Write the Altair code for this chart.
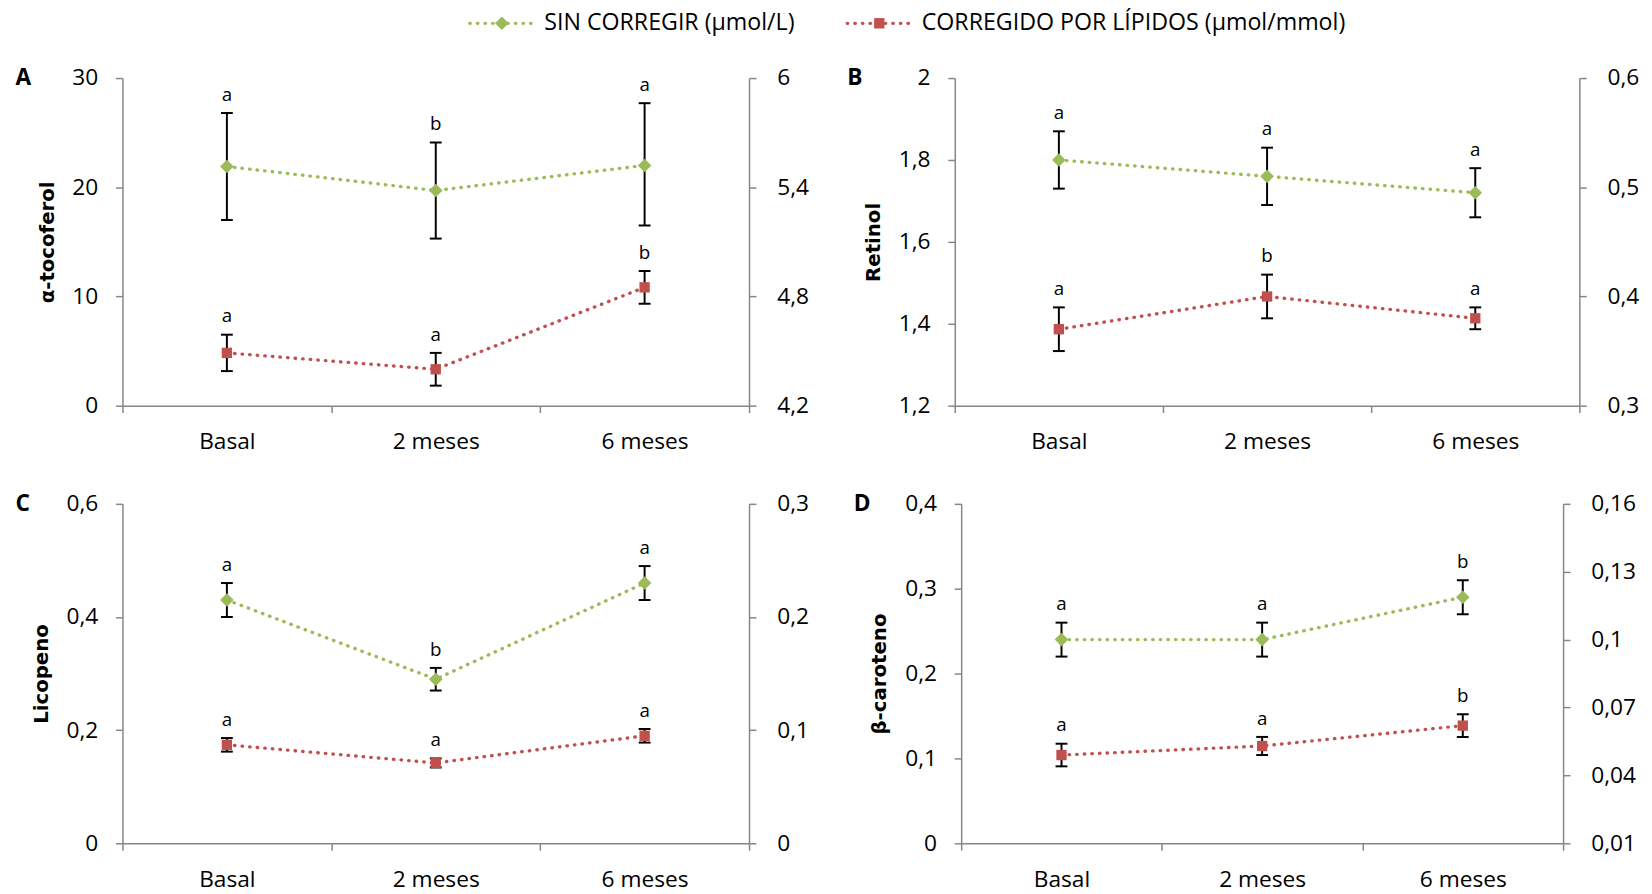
import altair as alt
import pandas as pd

GREEN = "#9BBB59"
RED = "#C0504D"
AXIS_GREY = "#868686"

categories = ["Basal", "2 meses", "6 meses"]
series_names = ["SIN CORREGIR (μmol/L)", "CORREGIDO POR LÍPIDOS (μmol/mmol)"]

# ---- Panel A: alpha-tocoferol ----
a_sin = [21.9, 19.7, 22.0]
a_sin_lo = [17.0, 15.3, 16.5]
a_sin_hi = [26.8, 24.1, 27.7]
a_sin_sig = ["a", "b", "a"]
a_cor = [4.49, 4.40, 4.85]
a_cor_lo = [4.39, 4.31, 4.76]
a_cor_hi = [4.59, 4.49, 4.94]
a_cor_sig = ["a", "a", "b"]

# ---- Panel B: retinol ----
b_sin = [1.80, 1.76, 1.72]
b_sin_lo = [1.73, 1.69, 1.66]
b_sin_hi = [1.87, 1.83, 1.78]
b_sin_sig = ["a", "a", "a"]
b_cor = [0.37, 0.40, 0.38]
b_cor_lo = [0.35, 0.38, 0.37]
b_cor_hi = [0.39, 0.42, 0.39]
b_cor_sig = ["a", "b", "a"]

# ---- Panel C: licopeno ----
c_sin = [0.43, 0.29, 0.46]
c_sin_lo = [0.40, 0.27, 0.43]
c_sin_hi = [0.46, 0.31, 0.49]
c_sin_sig = ["a", "b", "a"]
c_cor = [0.087, 0.071, 0.095]
c_cor_lo = [0.081, 0.067, 0.089]
c_cor_hi = [0.093, 0.075, 0.101]
c_cor_sig = ["a", "a", "a"]

# ---- Panel D: beta-caroteno ----
d_sin = [0.24, 0.24, 0.29]
d_sin_lo = [0.22, 0.22, 0.27]
d_sin_hi = [0.26, 0.26, 0.31]
d_sin_sig = ["a", "a", "b"]
d_cor = [0.049, 0.053, 0.062]
d_cor_lo = [0.044, 0.049, 0.057]
d_cor_hi = [0.054, 0.057, 0.067]
d_cor_sig = ["a", "a", "b"]

panel_letters = ["A", "B", "C", "D"]
panel_titles = ["α-tocoferol", "Retinol", "Licopeno", "β-caroteno"]
left_ticks = [[0, 10, 20, 30], [1.2, 1.4, 1.6, 1.8, 2.0], [0, 0.2, 0.4, 0.6], [0, 0.1, 0.2, 0.3, 0.4]]
right_ticks = [[4.2, 4.8, 5.4, 6.0], [0.3, 0.4, 0.5, 0.6], [0, 0.1, 0.2, 0.3],
               [0.01, 0.04, 0.07, 0.1, 0.13, 0.16]]

LABEL_EXPR = "replace(format(datum.value, '.2~f'), '.', ',')"


def frame(vals, lo, hi, sig):
    return pd.DataFrame({"cat": categories, "val": vals, "lo": lo, "hi": hi, "sig": sig})


def series_layer(df, color, shape, size, ticks, orient, title):
    ysc = alt.Scale(domain=[ticks[0], ticks[-1]], nice=False, zero=False)
    if title is None:
        yax = alt.Axis(values=ticks, orient=orient, title=None, labelExpr=LABEL_EXPR,
                       labelPadding=21, labelFlush=False, labelOverlap=False)
    else:
        yax = alt.Axis(values=ticks, orient=orient, title=title, labelExpr=LABEL_EXPR,
                       labelPadding=18, titlePadding=15, labelFlush=False, labelOverlap=False)
    x = alt.X("cat:N", sort=categories,
              scale=alt.Scale(type="band", paddingInner=0, paddingOuter=0),
              axis=alt.Axis(title=None, labelAngle=0, tickBand="extent", labelPadding=18.5))
    base = alt.Chart(df).encode(x=x)

    def Y(field):
        return alt.Y(field, scale=ysc, axis=yax)

    line = base.mark_line(color=color, strokeWidth=3.4, strokeDash=[0.5, 7.2],
                          strokeCap="round").encode(y=Y("val:Q"))
    rule = base.mark_rule(color="black", strokeWidth=2).encode(y=Y("lo:Q"), y2="hi:Q")
    cap_hi = base.mark_tick(color="black", thickness=2, size=12, opacity=1).encode(y=Y("hi:Q"))
    cap_lo = base.mark_tick(color="black", thickness=2, size=12, opacity=1).encode(y=Y("lo:Q"))
    pts = base.mark_point(shape=shape, filled=True, size=size, color=color, opacity=1).encode(
        y=Y("val:Q"))
    txt = base.mark_text(font="Open Sans", fontSize=19, baseline="alphabetic", dy=-12.5,
                         color="black").encode(y=Y("hi:Q"), text="sig:N")
    return alt.layer(line, rule, cap_hi, cap_lo, pts, txt)


def panel(i, sin_df, cor_df, width, height, letter_dx):
    green = series_layer(sin_df, GREEN, "diamond", 190, left_ticks[i], "left", panel_titles[i])
    red = series_layer(cor_df, RED, "square", 110, right_ticks[i], "right", None)
    letter = alt.Chart(pd.DataFrame({"t": [panel_letters[i]]})).mark_text(
        align="left", baseline="middle", font="Open Sans", fontWeight="bold", fontSize=23,
        color="black").encode(text="t:N", x=alt.value(letter_dx), y=alt.value(0))
    return alt.layer(green, red, letter).resolve_scale(y="independent").properties(
        width=width, height=height)


pA = panel(0, frame(a_sin, a_sin_lo, a_sin_hi, a_sin_sig), frame(a_cor, a_cor_lo, a_cor_hi, a_cor_sig),
           635, 332, -108.5)
pB = panel(1, frame(b_sin, b_sin_lo, b_sin_hi, b_sin_sig), frame(b_cor, b_cor_lo, b_cor_hi, b_cor_sig),
           633, 332, -109)
pC = panel(2, frame(c_sin, c_sin_lo, c_sin_hi, c_sin_sig), frame(c_cor, c_cor_lo, c_cor_hi, c_cor_sig),
           635, 344, -108.5)
pD = panel(3, frame(d_sin, d_sin_lo, d_sin_hi, d_sin_sig), frame(d_cor, d_cor_lo, d_cor_hi, d_cor_sig),
           610, 344, -109)

row1 = alt.hconcat(pA, pB, spacing=208.5, bounds="flush")
row2 = alt.hconcat(pC, pD, spacing=215, bounds="flush")
rows = alt.concat(row1, row2, columns=1, align="none", spacing=39.5)

# ---- custom legend ----
legend_df = pd.DataFrame({"series": series_names})
lx = alt.X("series:N", sort=series_names,
           scale=alt.Scale(type="point", domain=series_names, range=[384.5, 767], padding=0),
           axis=None)
lcolor = alt.Color("series:N", scale=alt.Scale(domain=series_names, range=[GREEN, RED]), legend=None)
lbase = alt.Chart(legend_df).encode(x=lx, y=alt.value(11))
ldots = lbase.mark_point(shape="M-1,0L1,0", size=4225, filled=False, strokeWidth=3.4,
                         strokeDash=[0.5, 7.2], strokeCap="round", opacity=1).encode(color=lcolor)
lmark = lbase.mark_point(filled=True, opacity=1).encode(
    color=lcolor,
    shape=alt.Shape("series:N", scale=alt.Scale(domain=series_names, range=["diamond", "square"]),
                    legend=None),
    size=alt.Size("series:N", scale=alt.Scale(domain=series_names, range=[190, 110]), legend=None))
ltext = lbase.mark_text(align="left", baseline="middle", dx=43, font="Open Sans", fontSize=23.5,
                        color="black").encode(text="series:N")
legend = alt.layer(ldots, lmark, ltext).properties(width=1300, height=22)

chart = alt.concat(legend, rows, columns=1, align="none", spacing=32.5).properties(
    padding={"left": 7, "top": -2.5, "right": 5, "bottom": 5}
).configure_view(stroke=None).configure_axis(
    domainColor=AXIS_GREY, tickColor=AXIS_GREY, domainWidth=1.5, tickWidth=1.5, tickSize=7,
    labelFont="Open Sans", labelFontSize=23, labelColor="black", grid=False,
    titleColor="black", titleFont="DejaVu Sans", titleFontWeight="bold", titleFontSize=20
)

chart.save("out.html", embed_options={"renderer": "svg", "actions": False})
